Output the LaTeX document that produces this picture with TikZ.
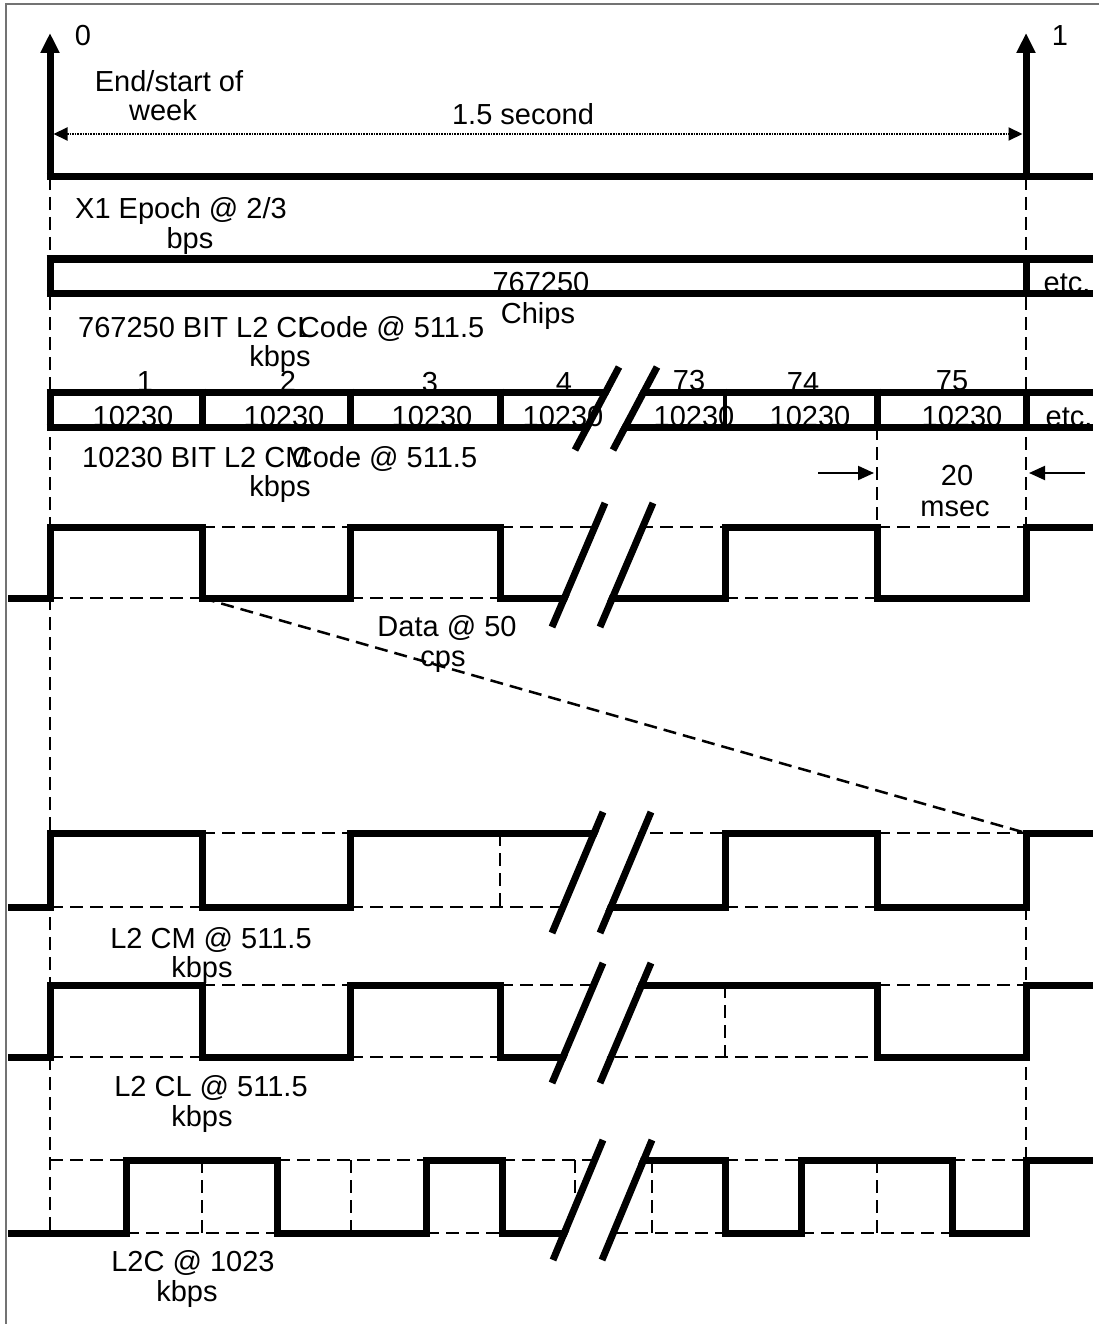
\documentclass[tikz,border=0pt]{standalone}
\usepackage{fontspec}
\setmainfont{Liberation Sans}
\usetikzlibrary{arrows.meta}
\tikzset{
  thk/.style={line width=7pt, line join=miter, line cap=butt},
  thn/.style={line width=3.5pt},
  dsh/.style={line width=2.5pt, dash pattern=on 13pt off 7pt},
  dotl/.style={line width=2pt, dash pattern=on 1.6pt off 1pt},
  slashl/.style={line width=7pt, line cap=butt},
  lbl/.style={font=\fontsize{29}{31}\selectfont, inner sep=0pt, anchor=base},
  framel/.style={draw=black!55, line width=1.8pt},
  bigtip/.style={-{Triangle[length=20pt,width=18pt]}},
  smalltip/.style={-{Triangle[length=16pt,width=14pt]}},
}
% #1,#2 bottom of first slash; #3,#4 top of first slash; #5 horizontal shift of second slash
\newcommand\wbreak[5]{%
  \fill[white] ({#1+4},#2) -- ({#3+4},#4) -- ({#3+#5-4},#4) -- ({#1+#5-4},#2) -- cycle;
  \draw[slashl] (#1,#2) -- (#3,#4);
  \draw[slashl] ({#1+#5},#2) -- ({#3+#5},#4);
}
\begin{document}
\begin{tikzpicture}[x=1pt,y=-1pt]
\useasboundingbox (0,0) rectangle (1099,1324);
\fill[white] (0,0) rectangle (1099,1324);
\draw[framel] (6,1324) -- (6,4) -- (1099,4);

% ---------- dashed guide lines ----------
\draw[dsh] (50,177) -- (50,1233);
\draw[dsh] (1026,177) -- (1026,527);
\draw[dsh] (1026,907) -- (1026,1160);
\draw[dsh] (877,427) -- (877,527);
\draw[dsh] (202,598) -- (1026,833);

% ---------- top: week markers ----------
\draw[thk, bigtip] (50,180) -- (50,33);
\draw[thk, bigtip] (1026,180) -- (1026,33);
\draw[thk] (46.5,177) -- (1093,177);
\draw[dotl, {Triangle[length=14pt,width=13pt]}-{Triangle[length=14pt,width=13pt]}] (53.5,134) -- (1022.5,134);

% ---------- X1 epoch bar ----------
\draw[thk] (46.5,259) -- (1093,259);
\draw[thk] (46.5,293) -- (1093,293);
\draw[thk] (50,255.5) -- (50,296.5);
\draw[thk] (1026,255.5) -- (1026,296.5);

% ---------- CM code row ----------
\draw[thk] (46.5,392) -- (1093,392);
\draw[thk] (46.5,427) -- (1093,427);
\foreach \xx in {50,202,350,500,877,1026} {\draw[thk] (\xx,388.5) -- (\xx,430.5);}
\draw[thn] (725,388.5) -- (725,430.5);

% ---------- 20 msec arrows ----------
\draw[line width=2pt, smalltip] (818,473) -- (874,473);
\draw[line width=2pt, smalltip] (1085,473) -- (1029,473);

% ---------- Data waveform ----------
\draw[dsh] (50,598) -- (202,598) (350,598) -- (500,598) (725,598) -- (877,598);
\draw[dsh] (202,527) -- (350,527) (500,527) -- (725,527) (877,527) -- (1026,527);
\draw[thk] (8,598) -- (50,598) -- (50,527) -- (202,527) -- (202,598) -- (350,598)
  -- (350,527) -- (500,527) -- (500,598) -- (725,598) -- (725,527) -- (877,527)
  -- (877,598) -- (1026,598) -- (1026,527) -- (1093,527);

% ---------- L2 CM waveform ----------
\draw[dsh] (50,907) -- (202,907) (350,907) -- (580,907) (725,907) -- (877,907);
\draw[dsh] (202,833) -- (350,833) (630,833) -- (725,833) (877,833) -- (1026,833);
\draw[dsh] (500,833) -- (500,907);
\draw[thk] (8,907) -- (50,907) -- (50,833) -- (202,833) -- (202,907) -- (350,907)
  -- (350,833) -- (600,833);
\draw[thk] (595,907) -- (725,907) -- (725,833) -- (877,833) -- (877,907)
  -- (1026,907) -- (1026,833) -- (1093,833);

% ---------- L2 CL waveform ----------
\draw[dsh] (50,1057) -- (202,1057) (350,1057) -- (500,1057) (595,1057) -- (877,1057);
\draw[dsh] (202,985) -- (350,985) (500,985) -- (610,985) (877,985) -- (1026,985);
\draw[dsh] (725,985) -- (725,1057);
\draw[thk] (8,1057) -- (50,1057) -- (50,985) -- (202,985) -- (202,1057) -- (350,1057)
  -- (350,985) -- (500,985) -- (500,1057) -- (585,1057);
\draw[thk] (620,985) -- (877,985) -- (877,1057) -- (1026,1057) -- (1026,985) -- (1093,985);

% ---------- L2C waveform ----------
\draw[dsh] (50,1160) -- (126,1160) (277,1160) -- (426,1160) (502,1160) -- (615,1160)
  (725,1160) -- (801,1160) (952,1160) -- (1026,1160);
\draw[dsh] (126,1233) -- (277,1233) (426,1233) -- (502,1233) (595,1233) -- (725,1233)
  (801,1233) -- (952,1233);
\foreach \xx in {202,351,575,652,877} {\draw[dsh] (\xx,1160) -- (\xx,1233);}
\draw[thk] (8,1233) -- (126,1233) -- (126,1160) -- (277,1160) -- (277,1233) -- (426,1233)
  -- (426,1160) -- (502,1160) -- (502,1233) -- (585,1233);
\draw[thk] (625,1160) -- (725,1160) -- (725,1233) -- (801,1233) -- (801,1160)
  -- (952,1160) -- (952,1233) -- (1026,1233) -- (1026,1160) -- (1093,1160);

% ---------- break marks ----------
\wbreak{575}{450}{619}{367}{38}
\wbreak{552}{627}{605}{503}{48}
\wbreak{552}{933}{603}{812}{48}
\wbreak{552}{1083}{603}{963}{48}
\wbreak{553}{1260}{603}{1140}{49}

% ---------- texts ----------
\node[lbl] (z0) at (83,46) {0};
\node[lbl] (z1) at (1060,46) {1};
\node[lbl] (ws1) at (169,92) {End/start of};
\node[lbl] (ws2) at (163,121) {week};
\node[lbl] (sec) at (523,125) {1.5 second};
\node[lbl] (x1a) at (181,219) {X1 Epoch @ 2/3};
\node[lbl] (x1b) at (190,249) {bps};
\node[lbl] (chp1) at (541,292) {767250};
\node[lbl] (chp2) at (538,323) {Chips};
\node[lbl] (etc1) at (1067,292) {etc.};
\node[lbl, anchor=base west] (cl1) at (78,337) {767250 BIT L2 CL};
\node[lbl, anchor=base west] (cl2) at ([xshift=-15pt]cl1.base east) {Code @ 511.5};
\node[lbl] (cl3) at (280,366) {kbps};
\node[lbl] (r1) at (145,391) {1};
\node[lbl] (r2) at (288,391) {2};
\node[lbl] (r3) at (430,392) {3};
\node[lbl] (r4) at (564,392) {4};
\node[lbl] (r73) at (689,390) {73};
\node[lbl] (r74) at (803,392) {74};
\node[lbl] (r75) at (952,390) {75};
\foreach \xx/\nm in {133/b1,284/b2,432/b3,563/b4,694/b73,810/b74,962/b75}
  {\node[lbl] (\nm) at (\xx,426) {10230};}
\node[lbl] (etc2) at (1069,426) {etc.};
\node[lbl, anchor=base west] (cm1) at (82,467) {10230 BIT L2 CM};
\node[lbl, anchor=base west] (cm2) at ([xshift=-18pt]cm1.base east) {Code @ 511.5};
\node[lbl] (cm3) at (280,496) {kbps};
\node[lbl] (ms1) at (957,485) {20};
\node[lbl] (ms2) at (955,516) {msec};
\node[lbl] (d1) at (447,636) {Data @ 50};
\node[lbl] (d2) at (443,666) {cps};
\node[lbl] (w1) at (211,948) {L2 CM @ 511.5};
\node[lbl] (w2) at (202,977) {kbps};
\node[lbl] (w3) at (211,1096) {L2 CL @ 511.5};
\node[lbl] (w4) at (202,1126) {kbps};
\node[lbl] (w5) at (193,1271) {L2C @ 1023};
\node[lbl] (w6) at (187,1301) {kbps};
\end{tikzpicture}
\end{document}
